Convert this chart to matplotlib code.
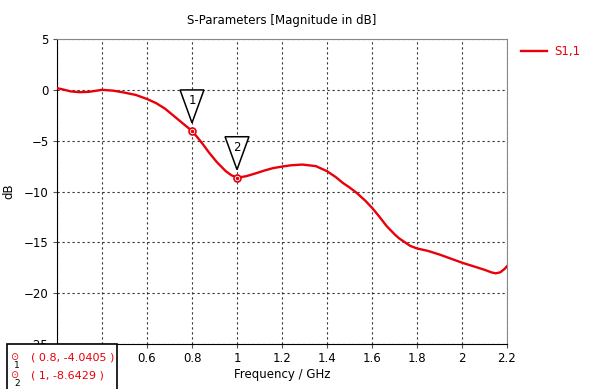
import matplotlib
matplotlib.use("Agg")
import matplotlib.pyplot as plt
import matplotlib.transforms as mtrans
from matplotlib.patches import Rectangle, Polygon

# S1,1 curve
freq = [0.2, 0.23, 0.26, 0.3, 0.34, 0.4, 0.45, 0.49, 0.55, 0.6, 0.64, 0.68, 0.71,
        0.74, 0.77, 0.8, 0.825, 0.85, 0.875, 0.91, 0.95, 0.975, 1.0, 1.04,
        1.085, 1.12, 1.16, 1.2, 1.24, 1.29, 1.35, 1.4, 1.44, 1.47, 1.5, 1.53,
        1.57, 1.6, 1.63, 1.665, 1.7, 1.72, 1.75, 1.77, 1.8, 1.85, 1.9, 1.95,
        2.0, 2.05, 2.1, 2.13, 2.15, 2.17, 2.19, 2.2]
s11 = [0.17, 0.02, -0.15, -0.23, -0.2, 0.0, -0.08, -0.23, -0.5, -0.9, -1.3, -1.85, -2.4,
       -2.95, -3.5, -4.04, -4.7, -5.4, -6.15, -7.1, -8.0, -8.4, -8.64, -8.5,
       -8.2, -7.95, -7.7, -7.55, -7.42, -7.35, -7.5, -8.0, -8.6, -9.15, -9.6, -10.1,
       -10.9, -11.6, -12.4, -13.4, -14.2, -14.6, -15.05, -15.35, -15.6, -15.85, -16.2, -16.6,
       -17.0, -17.35, -17.7, -17.95, -18.05, -17.95, -17.6, -17.35]

mk_f = [0.8, 1.0]
mk_v = [-4.0405, -8.6429]
mk_names = ["1", "2"]

red = "#e8000b"

fig = plt.figure(figsize=(6.04, 3.89), dpi=100)
ax = fig.add_axes([0.0944, 0.1157, 0.745, 0.784])
ax.plot(freq, s11, color=red, lw=1.7, label="S1,1", zorder=3, solid_joinstyle="round")

ax.set_xlim(0.2, 2.2)
ax.set_ylim(-25, 5)
ax.set_xticks([0.2, 0.4, 0.6, 0.8, 1, 1.2, 1.4, 1.6, 1.8, 2, 2.2])
ax.set_xticklabels(["0.2", "0.4", "0.6", "0.8", "1", "1.2", "1.4", "1.6", "1.8", "2", "2.2"])
ax.set_yticks([-25, -20, -15, -10, -5, 0, 5])
ax.grid(True, color="#333333", linestyle=(0, (2, 2.5)), lw=0.8)
ax.tick_params(labelsize=8.5, length=3, color="#555555", pad=3)
for s in ["top", "right"]:
    ax.spines[s].set_color("#888888")
for s in ["left", "bottom"]:
    ax.spines[s].set_color("black")

ax.set_title("S-Parameters [Magnitude in dB]", fontsize=8.5, pad=11)
ax.set_xlabel("Frequency / GHz", fontsize=8.5, labelpad=2)
ax.set_ylabel("dB", fontsize=8.5, labelpad=6)

# markers on the curve with the triangle flags
for f, v, n in zip(mk_f, mk_v, mk_names):
    ax.plot([f], [v], "o", ms=5, mfc="white", mec=red, mew=1.2, zorder=4)
    ax.plot([f], [v], "o", ms=1.5, color=red, zorder=5)
    trans = fig.dpi_scale_trans + mtrans.ScaledTranslation(f, v, ax.transData)
    pts = [(-8.6, 29.5), (8.6, 29.5), (0, 5.8)]
    poly = Polygon([(x / 72, y / 72) for x, y in pts], closed=True, fc="white",
                   ec="black", lw=1.1, transform=trans, zorder=6, clip_on=False)
    ax.add_patch(poly)
    ax.annotate(n, xy=(f, v), xytext=(0, 22), textcoords="offset points",
                ha="center", va="center", fontsize=8.5, zorder=7)

# legend outside right
ax.legend(loc="upper left", bbox_to_anchor=(1.02, 0.995), frameon=False,
          fontsize=8.5, handlelength=2.2, handletextpad=0.6, labelcolor=red,
          borderaxespad=0)

# marker value box at the bottom left
box = Rectangle((7 / 604, -0.01), 110 / 604, 45 / 389 + 0.01, transform=fig.transFigure,
                fc="white", ec="black", lw=1.2, zorder=10)
fig.patches.append(box)
for i, (f, v, n) in enumerate(zip(mk_f, mk_v, mk_names)):
    yy = 1 - (357 + 18 * i) / 389
    fig.text(14 / 604, yy, "\u2299", color=red, fontsize=7, ha="center", va="center", zorder=11)
    fig.text(17 / 604, yy - 8 / 389, n, color="black", fontsize=6.5, ha="center",
             va="center", zorder=11)
    fig.text(31 / 604, yy, "( %g, %s )" % (f, v), color=red, fontsize=8,
             ha="left", va="center", zorder=11)

fig.savefig("out.png", dpi=100)
